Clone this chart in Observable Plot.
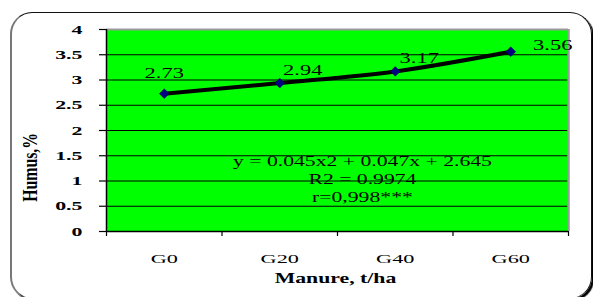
<!DOCTYPE html>
<html>
<head>
<meta charset="utf-8">
<script src="https://cdn.jsdelivr.net/npm/d3@7"></script>
<script src="https://cdn.jsdelivr.net/npm/@observablehq/plot@0.6"></script>
<style>
  body { margin: 0; background: #fff; }
  #wrap { position: relative; width: 593px; height: 297px; overflow: hidden; }
  #box {
    position: absolute; left: 10px; top: 12px; width: 582px; height: 287px;
    box-sizing: border-box; border-radius: 22px;
    border-left: 2px solid #777; border-top: 1.5px solid #111;
    border-right: 1.5px solid #111; border-bottom: 1.5px solid #444;
    box-shadow: 2px 2px 1px #000;
  }
  #chart { position: absolute; left: 0; top: 0; }
</style>
</head>
<body>
<div id="wrap"><div id="box"></div><div id="chart"></div></div>
<script>
// ---- data ----
const categories = ["G0", "G20", "G40", "G60"];
const humus = [2.73, 2.94, 3.17, 3.56];
const yTicks = [0, 0.5, 1, 1.5, 2, 2.5, 3, 3.5, 4];
const equationLines = ["y = 0.045x2 + 0.047x + 2.645", "R2 = 0.9974", "r=0,998***"];
const xTitle = "Manure, t/ha";
const yTitle = "Humus,%";

// ---- derived tables ----
const points = categories.map((c, i) => ({ i, c, v: humus[i], label: humus[i].toFixed(2) }));
const bandEdges = d3.range(categories.length + 1).map(k => k - 0.5);
const centers = d3.range(categories.length);
const equation = [{ x: 1.716, y: 1.05, text: equationLines.join("\n") }];
const yTitleAt = [{ x: -1.158, y: 1.27, text: yTitle }];

const labelOffsets = [[0, -21], [23, -13], [24, -13], [42, -7]];
const serif = "'Liberation Serif', 'Times New Roman', serif";

const chart = Plot.plot({
  width: 593,
  height: 297,
  marginLeft: 106,
  marginRight: 25,
  marginTop: 29,
  marginBottom: 66,
  style: { background: "transparent", fontFamily: serif, color: "#000" },
  x: { type: "linear", domain: [-0.5, categories.length - 0.5], axis: null },
  y: { domain: [0, 4], axis: null },
  marks: [
    Plot.frame({ fill: "#00ff00", stroke: null }),
    Plot.gridY(yTicks.filter(t => t > 0 && t < 4), { stroke: "#000", strokeOpacity: 1, strokeWidth: 1 }),
    Plot.ruleY([4], { stroke: "#9a9a9a", strokeWidth: 2 }),
    Plot.ruleX([categories.length - 0.5], { stroke: "#9a9a9a", strokeWidth: 2.5 }),
    Plot.ruleX([-0.5], { stroke: "#000", strokeWidth: 1.5 }),
    Plot.ruleY([0], { stroke: "#000", strokeWidth: 1.5 }),
    Plot.axisY({ ticks: yTicks, tickSize: 7, tickPadding: 17, tickFormat: d => `${d}`, label: null, fontSize: 12.5, fontWeight: "bold", strokeWidth: 1.2 }),
    Plot.axisX({ ticks: bandEdges, tickSize: 5, tickFormat: () => "", label: null, strokeWidth: 1.2 }),
    Plot.axisX({ ticks: centers, tickSize: 0, tickPadding: 22, tickFormat: i => categories[i], label: null, fontSize: 13.5 }),
    Plot.line(points, { x: "i", y: "v", stroke: "#000", strokeWidth: 4, curve: "monotone-x" }),
    Plot.dot(points, { x: "i", y: "v", symbol: "diamond2", r: 4.4, fill: "#000080", stroke: "#000050", strokeWidth: 0.5 }),
    ...labelOffsets.map(([dx, dy], k) =>
      Plot.text(points.filter(d => d.i === k), { x: "i", y: "v", text: "label", dx, dy, fontSize: 15.5, fill: "#000", className: "pointlabel" })
    ),
    Plot.text(equation, { x: "x", y: "y", text: "text", fontSize: 15.5, lineHeight: 1.16, fill: "#000", className: "equation" }),
    Plot.text([xTitle], { frameAnchor: "bottom", dy: 51, dx: -2, fontSize: 15, fontWeight: "bold", fill: "#000", className: "xtitle" }),
    Plot.text(yTitleAt, { x: "x", y: "y", text: "text", rotate: -90, fontSize: 15, fontWeight: "bold", fill: "#000", className: "ytitle" })
  ]
});

document.getElementById("chart").appendChild(chart);

// widen glyphs horizontally around each text anchor (the reference text is stretched)
function stretch(selector, sx, sy) {
  chart.querySelectorAll(selector).forEach(t => {
    let tr = t.getAttribute("transform");
    if (!tr) {
      const x = +(t.getAttribute("x") || 0), y = +(t.getAttribute("y") || 0);
      t.removeAttribute("x"); t.removeAttribute("y");
      tr = `translate(${x},${y})`;
    }
    t.setAttribute("transform", `${tr} scale(${sx},${sy})`);
  });
}
stretch('g[aria-label="y-axis tick label"] text', 1.75, 1);
stretch('g[aria-label="x-axis tick label"] text', 1.65, 1);
stretch('g.pointlabel text', 1.45, 1);
stretch('g.equation text', 1.4, 1);
stretch('g.xtitle text', 1.45, 1);
stretch('g.ytitle text', 1.05, 1.4);
</script>
</body>
</html>
